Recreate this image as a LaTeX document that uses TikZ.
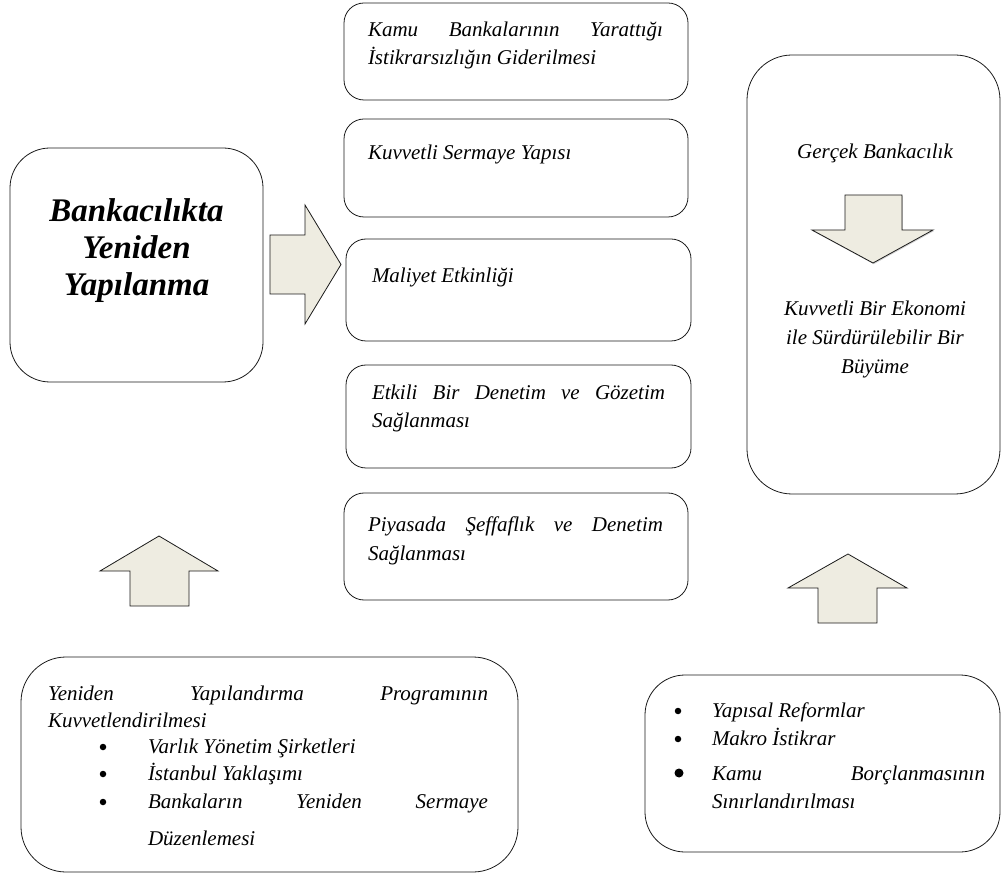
\documentclass[tikz,border=0pt]{standalone}
\usepackage{fontspec}
\setmainfont{Liberation Serif}
\usetikzlibrary{shadows}
\definecolor{arrowfill}{HTML}{EEECE1}
\definecolor{linecol}{HTML}{1A1A1A}
\tikzset{
  rbox/.style={draw=linecol, line width=0.8pt, inner sep=0pt, outer sep=0pt},
  txt/.style={inner sep=0pt, outer sep=0pt, anchor=base west, font=\fontsize{21}{27}\selectfont\itshape},
  ctxt/.style={txt, anchor=base},
  titletxt/.style={inner sep=0pt, anchor=base, font=\fontsize{33}{37}\selectfont\bfseries\itshape},
  blockarrow/.style={draw=linecol, line width=0.8pt, fill=arrowfill, line join=miter},
  dot/.style={circle, fill=black, inner sep=0pt, minimum size=6.5pt},
  bigdot/.style={circle, fill=black, inner sep=0pt, minimum size=9pt}
}
\begin{document}
\begin{tikzpicture}[x=1pt,y=-1pt]
\useasboundingbox (0,0) rectangle (1002,874);

% left main box
\node[rbox, rounded corners=40pt, minimum width=253pt, minimum height=234pt] (main) at (136.5,265) {};
\node[titletxt] (t1) at (136.5,222) {Bankacılıkta};
\node[titletxt] (t2) at (136.5,259) {Yeniden};
\node[titletxt] (t3) at (136.5,296) {Yapılanma};

% right arrow
\draw[blockarrow] (270,235) -- (305,235) -- (305,205) -- (341,264.5) -- (305,324) -- (305,294) -- (270,294) -- cycle;

% middle boxes
\node[rbox, rounded corners=20pt, minimum width=344pt, minimum height=97pt] (b1) at (516,51.5) {};
\node[txt] (b1a) at (368,37) {\hbox to 295pt{Kamu\hfill Bankalarının\hfill Yarattığı}};
\node[txt] (b1b) at (368,65) {İstikrarsızlığın Giderilmesi};

\node[rbox, rounded corners=20pt, minimum width=344pt, minimum height=98pt] (b2) at (516,168) {};
\node[txt] (b2a) at (368,160) {Kuvvetli Sermaye Yapısı};

\node[rbox, rounded corners=20pt, minimum width=345pt, minimum height=102pt] (b3) at (518.5,290) {};
\node[txt] (b3a) at (372,283) {Maliyet Etkinliği};

\node[rbox, rounded corners=20pt, minimum width=345pt, minimum height=103pt] (b4) at (518.5,416.5) {};
\node[txt] (b4a) at (372,400) {\hbox to 293pt{Etkili\hfill Bir\hfill Denetim\hfill ve\hfill Gözetim}};
\node[txt] (b4b) at (372,428) {Sağlanması};

\node[rbox, rounded corners=20pt, minimum width=344pt, minimum height=107pt] (b5) at (516,546.5) {};
\node[txt] (b5a) at (368,532) {\hbox to 295pt{Piyasada\hfill Şeffaflık\hfill ve\hfill Denetim}};
\node[txt] (b5b) at (368,560) {Sağlanması};

% right tall box
\node[rbox, rounded corners=45pt, minimum width=253pt, minimum height=439pt] (rb) at (873.5,274.5) {};
\node[ctxt] (r1) at (875,159) {Gerçek Bankacılık};
\draw[blockarrow, drop shadow={shadow xshift=0.8pt, shadow yshift=-1.2pt, opacity=0.35}]
  (845,195) -- (902,195) -- (902,230) -- (933,230) -- (873,263) -- (812,230) -- (845,230) -- cycle;
\node[ctxt] (r2) at (875,316) {Kuvvetli Bir Ekonomi};
\node[ctxt] (r3) at (875,345) {ile Sürdürülebilir Bir};
\node[ctxt] (r4) at (875,374) {Büyüme};

% up arrows
\draw[blockarrow] (130,606) -- (130,571) -- (100,571) -- (159,536) -- (218,571) -- (189,571) -- (189,606) -- cycle;
\draw[blockarrow] (818,623) -- (818,588) -- (788,588) -- (848,554) -- (907,588) -- (877,588) -- (877,623) -- cycle;

% bottom left box
\node[rbox, rounded corners=45pt, minimum width=497pt, minimum height=215pt] (bl) at (269.5,764.5) {};
\node[txt] (bl1) at (48,700) {\hbox to 440pt{Yeniden\hfill Yapılandırma\hfill Programının}};
\node[txt] (bl2) at (48,727) {Kuvvetlendirilmesi};
\node[dot] (d1) at (103,747) {};
\node[txt] (bl3) at (148,753) {Varlık Yönetim Şirketleri};
\node[dot] (d2) at (103,774) {};
\node[txt] (bl4) at (148,780) {İstanbul Yaklaşımı};
\node[dot] (d3) at (103,802) {};
\node[txt] (bl5) at (148,808) {\hbox to 340pt{Bankaların\hfill Yeniden\hfill Sermaye}};
\node[txt] (bl6) at (148,845) {Düzenlemesi};

% bottom right box
\node[rbox, rounded corners=40pt, minimum width=355pt, minimum height=177pt] (br) at (822.5,763.5) {};
\node[dot] (e1) at (678,711) {};
\node[txt] (br1) at (712,717) {Yapısal Reformlar};
\node[dot] (e2) at (678,739) {};
\node[txt] (br2) at (712,745) {Makro İstikrar};
\node[bigdot] (e3) at (679,773) {};
\node[txt] (br3) at (712,780) {\hbox to 273pt{Kamu\hfill Borçlanmasının}};
\node[txt] (br4) at (712,808) {Sınırlandırılması};
\end{tikzpicture}
\end{document}
